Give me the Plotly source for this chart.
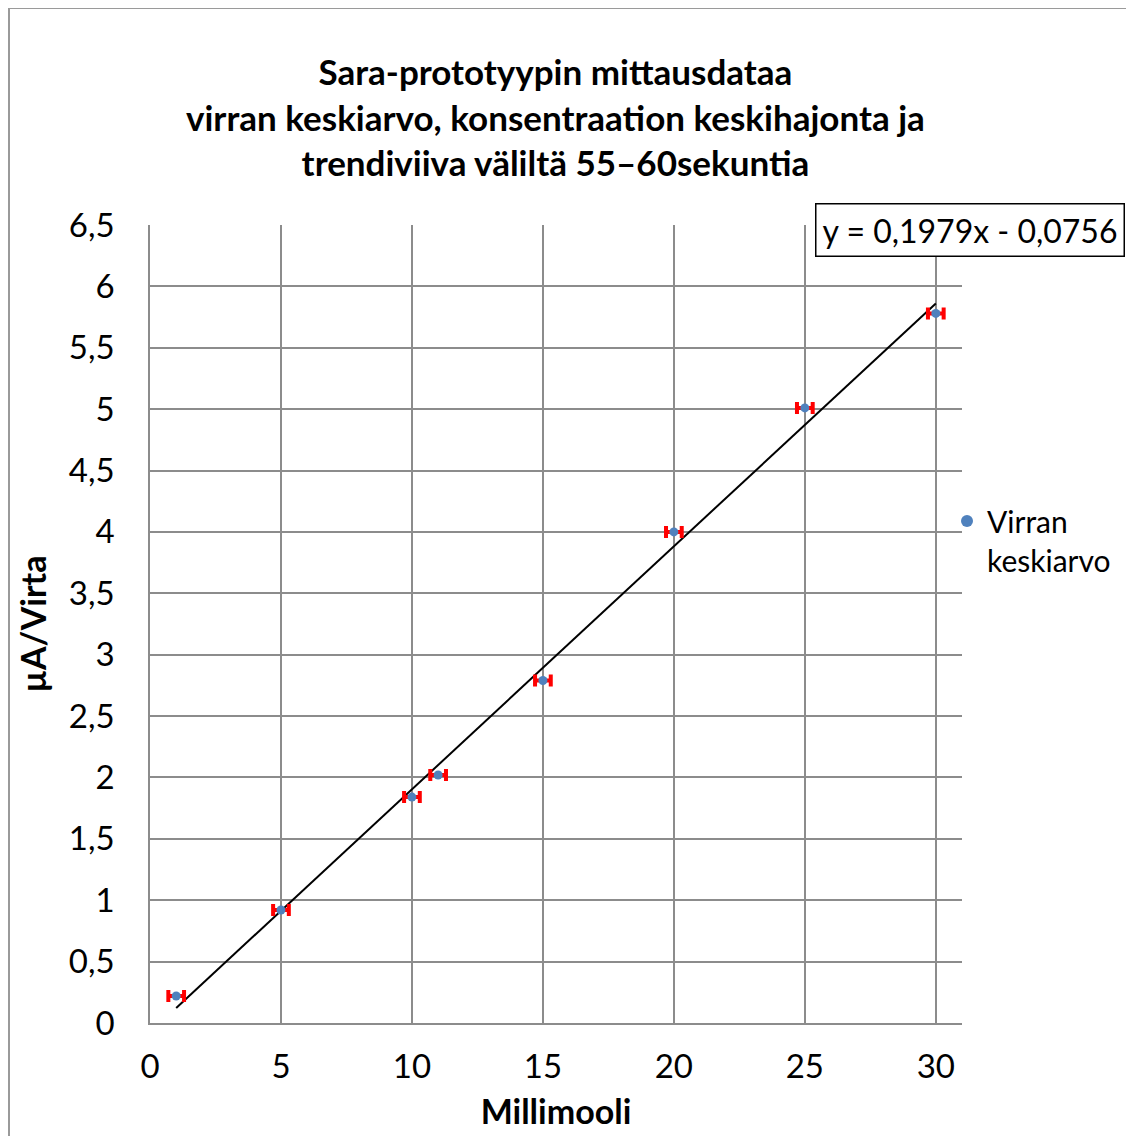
import plotly.graph_objects as go

# Data
millimoles = [1, 5, 10, 11, 15, 20, 25, 30]
current_mean = [0.22, 0.92, 1.84, 2.02, 2.79, 4.00, 5.01, 5.78]
conc_std = [0.3, 0.3, 0.3, 0.3, 0.3, 0.3, 0.3, 0.3]
slope = 0.1979
intercept = -0.0756
x_ticks = [0, 5, 10, 15, 20, 25, 30]
y_ticks = [0, 0.5, 1, 1.5, 2, 2.5, 3, 3.5, 4, 4.5, 5, 5.5, 6, 6.5]
y_tick_labels = [f"{v:g}".replace(".", ",") for v in y_ticks]
title_lines = ["Sara-prototyypin mittausdataa",
               "virran keskiarvo, konsentraation keskihajonta ja",
               "trendiviiva väliltä 55–60sekuntia"]

FONT = "Lato"
OFF = 8  # page body margin
W, H = 1134 - OFF, 1136 - OFF
L, T = 150 - OFF, 225 - OFF
R = W - (962 - OFF)
B = H - (1023 - OFF)
pw, ph = W - L - R, H - T - B

def px_x(p):
    return (p - OFF - L) / pw

def px_y(p):
    return (H - B - (p - OFF)) / ph

fig = go.Figure()

trend_x = [min(millimoles), max(millimoles)]
trend_y = [slope * v + intercept for v in trend_x]
fig.add_trace(go.Scatter(x=trend_x, y=trend_y, mode="lines",
                         line=dict(color="black", width=2),
                         showlegend=False, hoverinfo="skip"))

fig.add_trace(go.Scatter(
    x=millimoles, y=current_mean, mode="markers", name="Virran<br>keskiarvo",
    marker=dict(color="#4f81bd", size=9),
    error_x=dict(type="data", array=conc_std, color="#ff0000",
                 thickness=4, width=6),
))

fig.update_layout(
    width=W, height=H,
    margin=dict(l=L, r=R, t=T, b=B),
    paper_bgcolor="white", plot_bgcolor="white",
    font=dict(family=FONT, color="black"),
    xaxis=dict(range=[0, 31], tickvals=x_ticks, showgrid=True,
               gridcolor="#8c8c8c", gridwidth=1.5, zeroline=False,
               showline=True, linecolor="#8c8c8c", linewidth=1.5,
               tickfont=dict(size=33), ticklabelstandoff=14,
               title=dict(text="Millimooli", standoff=16,
                          font=dict(size=34, weight="bold"))),
    yaxis=dict(range=[0, 6.5], tickvals=y_ticks, ticktext=y_tick_labels,
               showgrid=True, gridcolor="#8c8c8c", gridwidth=1.5,
               zeroline=False, showline=True, linecolor="#8c8c8c",
               linewidth=1.5, tickfont=dict(size=33), ticklabelstandoff=27,
               title=dict(text="µA/Virta", standoff=12,
                          font=dict(size=34, weight="bold"))),
    legend=dict(x=px_x(947), y=px_y(495), xanchor="left", yanchor="top",
                font=dict(size=30), bgcolor="rgba(0,0,0,0)",
                valign="top", itemsizing="constant"),
    annotations=[
        dict(text="<br>".join(title_lines), xref="paper", yref="paper",
             x=px_x(555), y=px_y(117), xanchor="center", yanchor="middle",
             showarrow=False,
             font=dict(family=FONT, size=35, color="black", weight="bold")),
        dict(text="y = 0,1979x - 0,0756", xref="paper", yref="paper",
             x=px_x(815), y=px_y(203), xanchor="left", yanchor="top",
             showarrow=False, font=dict(size=32, color="black"),
             bordercolor="black", borderwidth=1.5, borderpad=6,
             bgcolor="white"),
    ],
    shapes=[dict(type="rect", xref="paper", yref="paper",
                 x0=px_x(9), x1=px_x(1150), y0=px_y(1160), y1=px_y(8),
                 line=dict(color="#9a9a9a", width=2), layer="below")],
)

fig.write_html("out.html")
